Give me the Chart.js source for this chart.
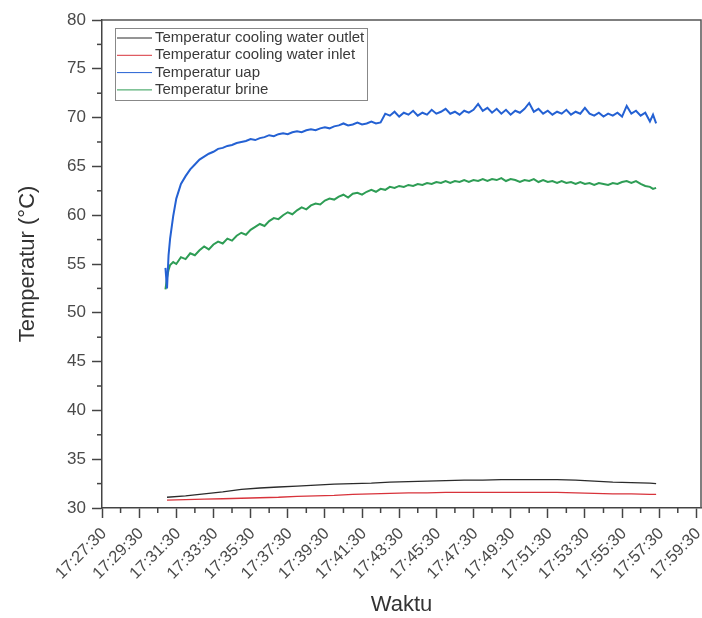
<!DOCTYPE html>
<html><head><meta charset="utf-8">
<script src="https://cdn.jsdelivr.net/npm/chart.js@4.4.1/dist/chart.umd.min.js"></script>
<style>html,body{margin:0;padding:0;background:#fff;}canvas{display:block;}</style>
</head><body>
<canvas id="c" width="702" height="618"></canvas>
<script>
const seriesNames = ['Temperatur cooling water outlet','Temperatur cooling water inlet','Temperatur uap','Temperatur brine'];
const tickLabels = ['17:27:30','17:29:30','17:31:30','17:33:30','17:35:30','17:37:30','17:39:30','17:41:30','17:43:30','17:45:30','17:47:30','17:49:30','17:51:30','17:53:30','17:55:30','17:57:30','17:59:30'];
const yTicks = [30,35,40,45,50,55,60,65,70,75,80];

const timesFast = ['17:30:55','17:31:00','17:31:05','17:31:10','17:31:20','17:31:30','17:31:45',
'17:32:00','17:32:15','17:32:30','17:32:45','17:33:00','17:33:15','17:33:30','17:33:45','17:34:00','17:34:15','17:34:30','17:34:45',
'17:35:00','17:35:15','17:35:30','17:35:45','17:36:00','17:36:15','17:36:30','17:36:45','17:37:00','17:37:15','17:37:30','17:37:45',
'17:38:00','17:38:15','17:38:30','17:38:45','17:39:00','17:39:15','17:39:30','17:39:45','17:40:00','17:40:15','17:40:30','17:40:45',
'17:41:00','17:41:15','17:41:30','17:41:45','17:42:00','17:42:15','17:42:30','17:42:45','17:43:00','17:43:15','17:43:30','17:43:45',
'17:44:00','17:44:15','17:44:30','17:44:45','17:45:00','17:45:15','17:45:30','17:45:45','17:46:00','17:46:15','17:46:30','17:46:45',
'17:47:00','17:47:15','17:47:30','17:47:45','17:48:00','17:48:15','17:48:30','17:48:45','17:49:00','17:49:15','17:49:30','17:49:45',
'17:50:00','17:50:15','17:50:30','17:50:45','17:51:00','17:51:15','17:51:30','17:51:45','17:52:00','17:52:15','17:52:30','17:52:45',
'17:53:00','17:53:15','17:53:30','17:53:45','17:54:00','17:54:15','17:54:30','17:54:45','17:55:00','17:55:15','17:55:30','17:55:45',
'17:56:00','17:56:15','17:56:30','17:56:45','17:57:00','17:57:10','17:57:20'];

const uap = [54.6,52.5,55.9,57.6,59.9,61.7,63.2,
64.0,64.7,65.2,65.7, 66.0,66.3,66.5,66.8, 66.9,67.1,67.2,67.4,
67.5,67.6,67.8,67.7, 67.9,68.0,68.2,68.1, 68.3,68.4,68.3,68.5,
68.6,68.5,68.7,68.8, 68.7,68.9,69.0,68.9, 69.1,69.2,69.4,69.2,
69.3,69.5,69.3,69.4, 69.6,69.4,69.5,70.4, 70.2,70.6,70.1,70.5,
70.3,70.7,70.2,70.5, 70.3,70.8,70.4,70.6, 70.9,70.4,70.6,70.3,
70.7,70.5,70.8,71.4, 70.7,71.0,70.5,70.9, 70.4,70.8,70.3,70.7,
70.5,70.9,71.5,70.6, 70.9,70.4,70.7,70.3, 70.6,70.4,70.8,70.3,
70.6,70.4,71.0,70.4, 70.2,70.5,70.1,70.4, 70.2,70.5,70.1,71.2,
70.4,70.7,70.2,70.5, 69.6,70.3,69.4];

const brine = [52.4,53.6,54.4,54.9,55.2,55.0,55.7,
55.5,56.1,55.9,56.4, 56.8,56.5,57.0,57.3, 57.1,57.6,57.4,57.9,
58.2,58.0,58.5,58.8, 59.1,58.9,59.4,59.7, 59.6,60.0,60.3,60.1,
60.5,60.8,60.6,61.0, 61.2,61.1,61.5,61.7, 61.6,61.9,62.1,61.8,
62.2,62.3,62.1,62.4, 62.6,62.4,62.7,62.6, 62.9,62.8,63.0,62.9,
63.1,63.0,63.2,63.1, 63.3,63.2,63.4,63.3, 63.5,63.3,63.5,63.4,
63.6,63.4,63.6,63.5, 63.7,63.5,63.7,63.6, 63.8,63.5,63.7,63.6,
63.4,63.6,63.5,63.7, 63.4,63.6,63.4,63.5, 63.3,63.5,63.3,63.4,
63.2,63.4,63.2,63.3, 63.1,63.3,63.2,63.1, 63.3,63.2,63.4,63.5,
63.3,63.5,63.2,63.0, 62.9,62.7,62.8];

const timesSlow = ['17:31:00','17:32:00','17:33:00','17:34:00','17:35:00','17:36:00','17:37:00','17:38:00','17:39:00','17:40:00',
'17:41:00','17:42:00','17:43:00','17:44:00','17:45:00','17:46:00','17:47:00','17:48:00','17:49:00','17:50:00',
'17:51:00','17:52:00','17:53:00','17:54:00','17:55:00','17:56:00','17:57:00','17:57:20'];
const outlet = [31.1,31.25,31.45,31.65,31.9,32.05,32.15,32.25,32.35,32.45,
32.5,32.55,32.65,32.7,32.75,32.8,32.85,32.85,32.9,32.9,
32.9,32.9,32.85,32.75,32.65,32.6,32.55,32.5];
const inlet = [30.8,30.85,30.9,30.95,31.0,31.05,31.1,31.2,31.25,31.3,
31.4,31.45,31.5,31.55,31.55,31.6,31.6,31.6,31.6,31.6,
31.6,31.6,31.55,31.5,31.45,31.45,31.4,31.4];

const colors = ['#2b2b2b','#d8333b','#2461d3','#2e9d55'];
const widths = [1.3,1.3,2,2];

function toSec(s){const p=s.split(':').map(Number);return p[0]*3600+p[1]*60+p[2];}
function pts(times,vals){return times.map((t,i)=>({x:toSec(t),y:vals[i]}));}

Chart.defaults.font.family = "'Liberation Sans', Arial, sans-serif";

const axisColor = '#444';

const decor = {
  id:'decor',
  afterDraw(chart){
    const ctx=chart.ctx, a=chart.chartArea, xs=chart.scales.x, ys=chart.scales.y;
    ctx.save();
    ctx.strokeStyle=axisColor; ctx.lineWidth=1.5;
    const xt=xs.ticks;
    for(let i=0;i<xt.length;i++){
      const v = i<xt.length-1 ? (xt[i].value+xt[i+1].value)/2 : xt[i].value+(xt[i].value-xt[i-1].value)/2;
      const px=xs.getPixelForValue(v);
      if(px<a.left-0.5||px>a.right+0.5) continue;
      ctx.beginPath(); ctx.moveTo(px,a.bottom); ctx.lineTo(px,a.bottom+5); ctx.stroke();
    }
    const yt=ys.ticks;
    for(let i=0;i<yt.length-1;i++){
      const v=(yt[i].value+yt[i+1].value)/2;
      const py=ys.getPixelForValue(v);
      ctx.beginPath(); ctx.moveTo(a.left,py); ctx.lineTo(a.left-5,py); ctx.stroke();
    }
    ctx.strokeStyle='#555'; ctx.lineWidth=1.5;
    ctx.beginPath(); ctx.moveTo(a.left,a.top); ctx.lineTo(a.right,a.top); ctx.lineTo(a.right,a.bottom); ctx.stroke();
    // legend
    const lx=115, ly=28, lw=252, lh=72;
    ctx.fillStyle='#fff'; ctx.fillRect(lx,ly,lw,lh);
    ctx.strokeStyle='#888'; ctx.lineWidth=1; ctx.strokeRect(lx+0.5,ly+0.5,lw,lh);
    ctx.font="15px 'Liberation Sans', Arial, sans-serif"; ctx.textBaseline='middle'; ctx.textAlign='left';
    chart.data.datasets.forEach((d,i)=>{
      const y=ly+10+i*17.3;
      ctx.strokeStyle=d.borderColor; ctx.lineWidth=1;
      ctx.beginPath(); ctx.moveTo(lx+2,y); ctx.lineTo(lx+37,y); ctx.stroke();
      ctx.fillStyle='#3a3a3a'; ctx.fillText(d.label,lx+40,y);
    });
    ctx.restore();
  }
};

const datasets = [
  {label:seriesNames[0],data:pts(timesSlow,outlet)},
  {label:seriesNames[1],data:pts(timesSlow,inlet)},
  {label:seriesNames[2],data:pts(timesFast,uap)},
  {label:seriesNames[3],data:pts(timesFast,brine)}
].map((d,i)=>Object.assign(d,{borderColor:colors[i],backgroundColor:colors[i],borderWidth:widths[i],pointRadius:0,tension:0,fill:false}));

new Chart(document.getElementById('c'),{
  type:'line',
  data:{datasets},
  options:{
    responsive:false, animation:false, devicePixelRatio:1,
    layout:{padding:{top:20,right:1,left:0,bottom:0}},
    plugins:{legend:{display:false},tooltip:{enabled:false}},
    scales:{
      x:{type:'linear',min:toSec('17:27:30'),max:toSec('17:59:45'),
        afterBuildTicks:s=>{s.ticks=tickLabels.map(l=>({value:toSec(l)}));},
        afterFit:s=>{s.height=110; s.paddingRight=0; s.paddingLeft=0;},
        ticks:{autoSkip:false,minRotation:45,maxRotation:45,font:{size:16.5},color:'#4a4a4a',padding:6,labelOffset:2,
          callback:(v,i)=>tickLabels[i]},
        grid:{display:true,drawOnChartArea:false,drawTicks:true,tickLength:10,tickColor:axisColor,tickWidth:1.5},
        border:{display:true,color:axisColor,width:1.5},
        title:{display:true,text:'Waktu',font:{size:22},color:'#333',padding:{top:0,bottom:0}}
      },
      y:{min:30,max:80,
        afterBuildTicks:s=>{s.ticks=yTicks.map(v=>({value:v}));},
        afterFit:s=>{s.width=102;},
        ticks:{font:{size:17},color:'#4a4a4a',padding:6},
        grid:{display:true,drawOnChartArea:false,drawTicks:true,tickLength:10,tickColor:axisColor,tickWidth:1.5},
        border:{display:true,color:axisColor,width:1.5},
        title:{display:true,text:'Temperatur (°C)',font:{size:22},color:'#333',padding:{top:15,bottom:0}}
      }
    }
  },
  plugins:[decor]
});
</script>
</body></html>
